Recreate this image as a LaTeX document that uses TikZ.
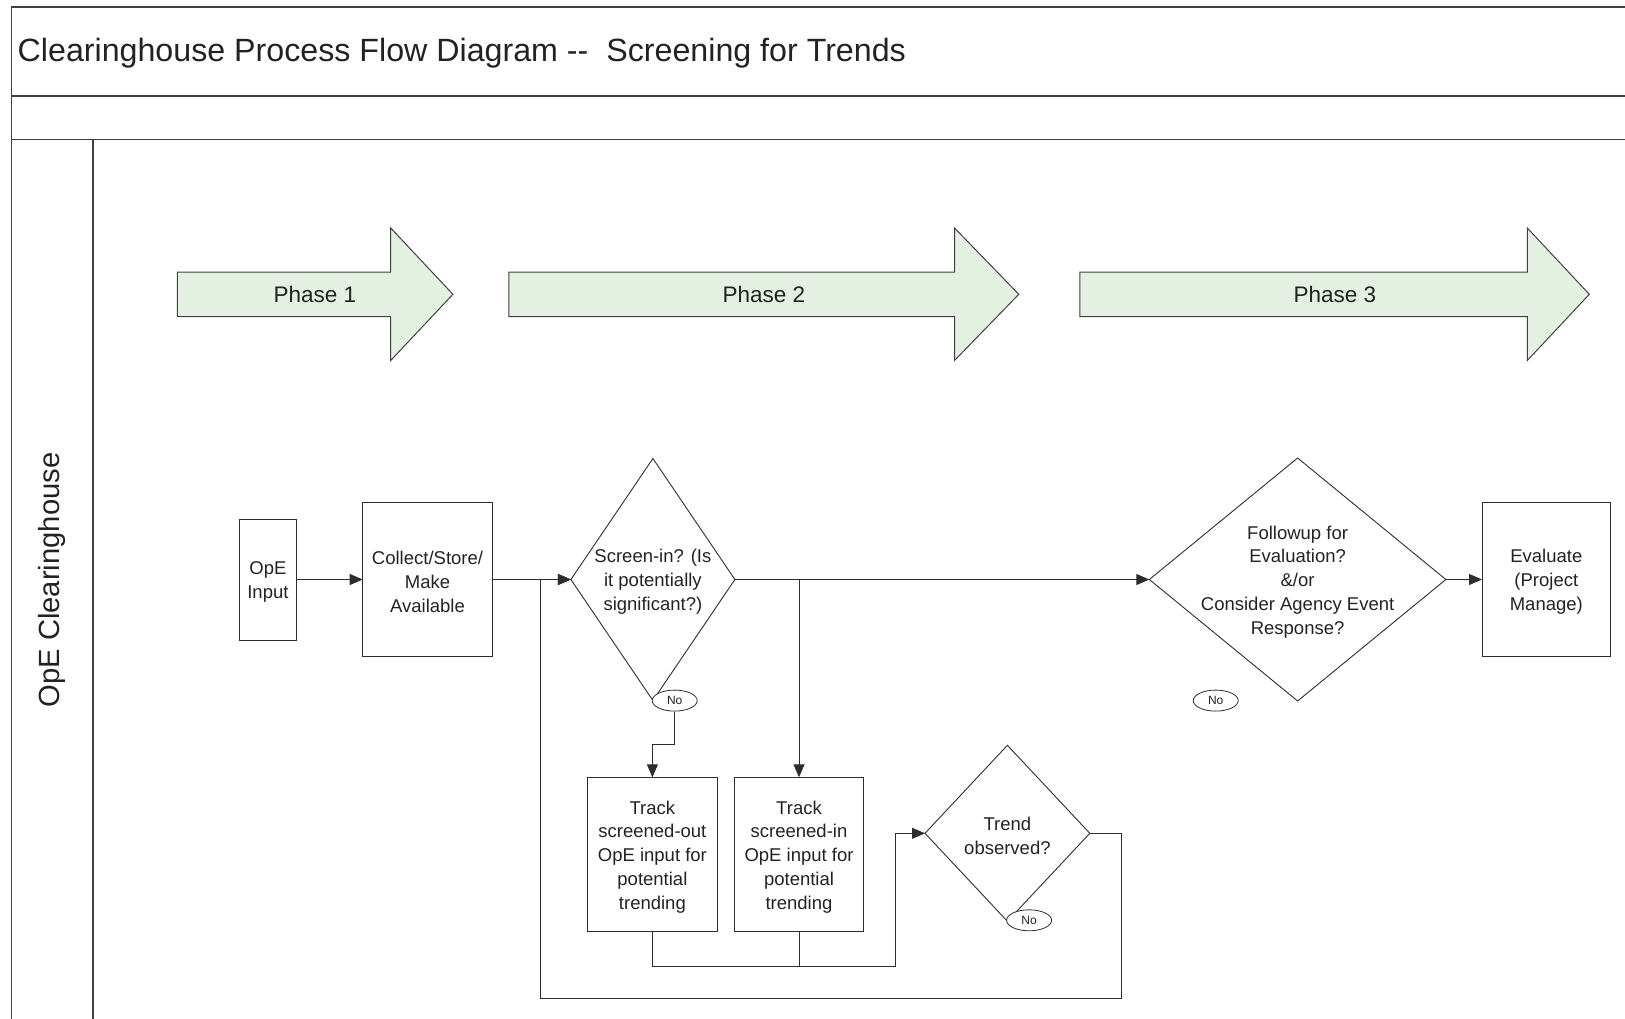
\documentclass[tikz,border=0pt]{standalone}
\usepackage{fontspec}
\setmainfont{Liberation Sans}
\usetikzlibrary{arrows.meta,shapes.geometric}
\definecolor{phasefill}{RGB}{228,241,226}
\definecolor{ink}{RGB}{34,34,34}
\definecolor{linecol}{RGB}{45,45,45}
\newcommand\flowfont{\fontsize{18.5}{23.8}\selectfont}
\begin{document}
\begin{tikzpicture}[x=1pt,y=-1pt,
  every node/.style={text=ink,inner sep=0pt},
  frameline/.style={draw=black!75,line width=1.6pt},
  conn/.style={draw=linecol,line width=0.9pt},
  arr/.style={conn,-{Triangle[length=13pt,width=11pt]}},
  procbox/.style={draw=linecol,line width=0.9pt,outer sep=0pt},
  decision/.style={diamond,draw=linecol,line width=0.9pt,outer sep=0pt},
  intext/.style={align=center,font=\flowfont,text=ink,yshift=-2.5pt},
  noflag/.style={ellipse,draw=linecol,line width=0.8pt,fill=white,minimum width=45pt,minimum height=21pt,font=\fontsize{12}{14}\selectfont},
  phase/.style={draw=black!75,line width=1pt,fill=phasefill},
  phasetext/.style={font=\fontsize{22.5}{26}\selectfont},
]
\useasboundingbox (0,0) rectangle (1625,1019);

% page frame: title band, blank band, swim lane
\draw[frameline] (11.5,1019) -- (11.5,7) -- (1625,7);
\draw[frameline] (11.5,96) -- (1625,96);
\draw[frameline] (11.5,139.5) -- (1625,139.5);
\draw[frameline] (93,139.5) -- (93,1019);

\node[anchor=west,font=\fontsize{32.2}{38}\selectfont] (title) at (17.5,53)
  {Clearinghouse Process Flow Diagram -{}-\ \ Screening for Trends};
\node[rotate=90,font=\fontsize{29.2}{34}\selectfont] (lane) at (51.5,580) {OpE Clearinghouse};

% phase banners
\foreach \l/\b/\t in {177.3/390.7/452.9, 508.9/954.5/1018.8, 1079.9/1527.3/1589.3}{
  \draw[phase] (\l,272) -- (\b,272) -- (\b,228) -- (\t,294.3) -- (\b,360.5)
               -- (\b,316.5) -- (\l,316.5) -- cycle;
}
\node[phasetext] (ph1) at (315,294) {Phase 1};
\node[phasetext] (ph2) at (763.8,294) {Phase 2};
\node[phasetext] (ph3) at (1334.9,294) {Phase 3};

% process steps
\node[procbox,minimum width=57pt,minimum height=121pt,
  label={[intext]center:{OpE\\Input}}] (inp) at (267.9,579.5) {};
\node[procbox,minimum width=129.6pt,minimum height=153.4pt,
  label={[intext]center:{Collect/Store/\\Make\\Available}}] (collect) at (427.5,579.5) {};
\node[decision,minimum width=164pt,minimum height=242pt,
  label={[intext]center:{Screen-in? (Is\\it potentially\\significant?)}}] (screen) at (652.9,579.5) {};
\node[procbox,minimum width=129.6pt,minimum height=154.4pt,
  label={[intext]center:{Track\\screened-out\\OpE input for\\potential\\trending}}] (outbox) at (652.4,854.5) {};
\node[procbox,minimum width=128.5pt,minimum height=154.4pt,
  label={[intext]center:{Track\\screened-in\\OpE input for\\potential\\trending}}] (inbox) at (799,854.5) {};
\node[decision,minimum width=164.8pt,minimum height=176pt,
  label={[intext]center:{Trend\\observed?}}] (trend) at (1007.4,833.3) {};
\node[decision,minimum width=296.5pt,minimum height=243pt,
  label={[intext]center:{Followup for\\Evaluation?\\\&/or\\Consider Agency Event\\Response?}}] (follow) at (1297.6,579.5) {};
\node[procbox,minimum width=128.5pt,minimum height=153.4pt,
  label={[intext]center:{Evaluate\\(Project\\Manage)}}] (eval) at (1546.3,579.5) {};

% "No" flags
\node[noflag] (noA) at (674.7,700.6) {No};
\node[noflag] (noB) at (1029.1,920.3) {No};
\node[noflag] (noC) at (1215.7,700.6) {No};

% routing points
\coordinate (elbowA) at (674.7,744);
\coordinate (joinB) at (799,966);
\coordinate (riseB) at (895.4,966);
\coordinate (loopR) at (1121.4,998);
\coordinate (loopL) at (540,998);

% connectors
\draw[arr] (inp.east) -- (collect.west);
\draw[arr] (collect.east) -- (screen.west);
\draw[arr] (screen.east) -- (follow.west);
\draw[arr] (screen.east) -| (inbox.north);
\draw[arr] (noA.south) -- (elbowA) -| (outbox.north);
\draw[conn] (outbox.south) |- (joinB);
\draw[arr] (inbox.south) -- (joinB) -- (riseB) |- (trend.west);
\draw[arr] (trend.east) -| (loopR) -- (loopL) |- (screen.west);
\draw[arr] (follow.east) -- (eval.west);
\end{tikzpicture}
\end{document}
